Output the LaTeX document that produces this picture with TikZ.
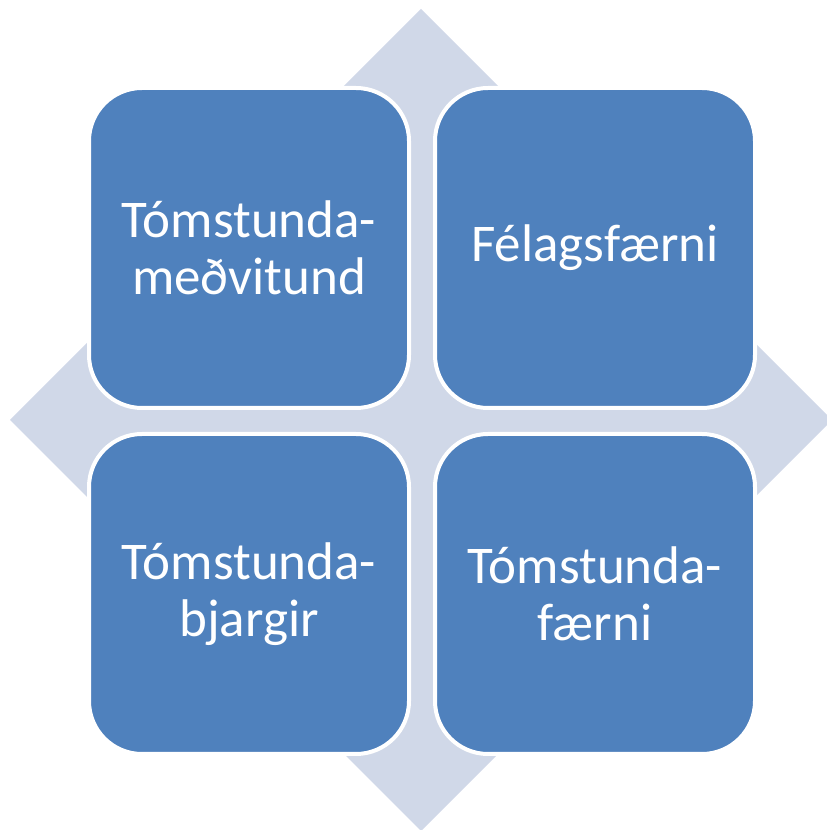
\documentclass[tikz,border=0pt]{standalone}
\usepackage{fontspec}
\setmainfont{Carlito}
\usepackage{tikz}
\usetikzlibrary{positioning}
\definecolor{tileblue}{HTML}{4F81BD}
\definecolor{crossgray}{HTML}{D0D8E8}

\begin{document}
\begin{tikzpicture}[x=1pt, y=1pt,
		tile/.style={draw=white, line width=4pt, fill=tileblue, rounded corners=53pt, minimum width=320pt, minimum height=320pt, outer sep=0pt, align=center, text=white, font=\fontsize{53}{57}\selectfont}]
		\clip (0,0) rectangle (827,830);
		\fill[crossgray] (10,410)--(421,821)--(832,410)--(421,-1)--cycle;
		
		\node[tile] (medv) at (249,582) {Tómstunda-\\meðvitund};
		\node[tile, right=26pt of medv] (felag) {Félagsfærni};
		
		\node[tile, below=26pt of medv] (bjarg) {Tómstunda-\\bjargir};
		\node[tile, right=26pt of bjarg] (faerni) {Tómstunda-\\færni};
	\end{tikzpicture}
\end{document}
